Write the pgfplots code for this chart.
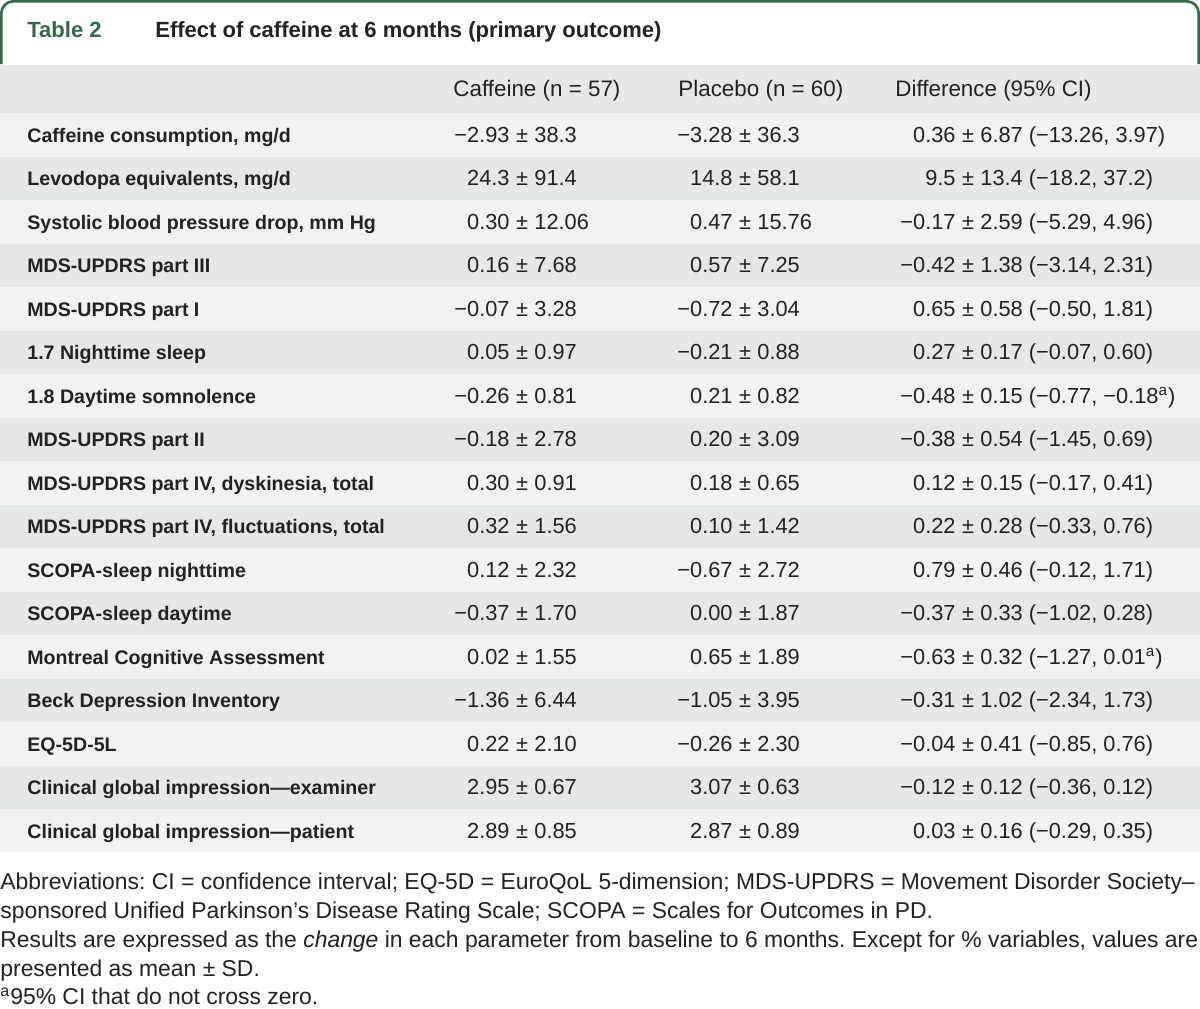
\documentclass[border=0pt]{standalone}
\usepackage{pgfplots}
\pgfplotsset{compat=1.18}
\usepackage{pgfplotstable}
\usepackage{fontspec}
\setmainfont{Liberation Sans}
\frenchspacing
\definecolor{tgreen}{HTML}{2F6B4B}
\definecolor{rowdark}{HTML}{E6E7E7}
\definecolor{rowlight}{HTML}{F2F2F2}
\definecolor{txt}{HTML}{222222}
\DeclareRobustCommand\sa{\textsuperscript{a}}

\pgfplotstableread[col sep=semicolon]{
y;label;cl;cr;pl;pr;dl;dr
134.75;Caffeine consumption, mg/d;−2.93;38.3;−3.28;36.3;0.36;6.87 (−13.26, 3.97)
178.25;Levodopa equivalents, mg/d;24.3;91.4;14.8;58.1;9.5;13.4 (−18.2, 37.2)
221.75;Systolic blood pressure drop, mm Hg;0.30;12.06;0.47;15.76;−0.17;2.59 (−5.29, 4.96)
265.25;MDS-UPDRS part III;0.16;7.68;0.57;7.25;−0.42;1.38 (−3.14, 2.31)
308.75;MDS-UPDRS part I;−0.07;3.28;−0.72;3.04;0.65;0.58 (−0.50, 1.81)
352.25;1.7 Nighttime sleep;0.05;0.97;−0.21;0.88;0.27;0.17 (−0.07, 0.60)
395.75;1.8 Daytime somnolence;−0.26;0.81;0.21;0.82;−0.48;0.15 (−0.77, −0.18\sa)
439.25;MDS-UPDRS part II;−0.18;2.78;0.20;3.09;−0.38;0.54 (−1.45, 0.69)
482.75;MDS-UPDRS part IV, dyskinesia, total;0.30;0.91;0.18;0.65;0.12;0.15 (−0.17, 0.41)
526.25;MDS-UPDRS part IV, fluctuations, total;0.32;1.56;0.10;1.42;0.22;0.28 (−0.33, 0.76)
569.75;SCOPA-sleep nighttime;0.12;2.32;−0.67;2.72;0.79;0.46 (−0.12, 1.71)
613.25;SCOPA-sleep daytime;−0.37;1.70;0.00;1.87;−0.37;0.33 (−1.02, 0.28)
656.75;Montreal Cognitive Assessment;0.02;1.55;0.65;1.89;−0.63;0.32 (−1.27, 0.01\sa)
700.25;Beck Depression Inventory;−1.36;6.44;−1.05;3.95;−0.31;1.02 (−2.34, 1.73)
743.75;EQ-5D-5L;0.22;2.10;−0.26;2.30;−0.04;0.41 (−0.85, 0.76)
787.25;Clinical global impression—examiner;2.95;0.67;3.07;0.63;−0.12;0.12 (−0.36, 0.12)
830.75;Clinical global impression—patient;2.89;0.85;2.87;0.89;0.03;0.16 (−0.29, 0.35)
}\results

\newcommand\valfont{\fontsize{10.9}{12}\selectfont}
\newcommand\hdrfont{\fontsize{11.2}{13}\selectfont}
\newcommand\labfont{\bfseries\fontsize{9.8}{12}\selectfont}

\begin{document}
\begin{tikzpicture}
\begin{axis}[
  width=600pt, height=504pt, scale only axis,
  xmin=0, xmax=1200, ymin=0, ymax=1008, y dir=reverse,
  hide axis, clip=false,
  every node near coord/.append style={inner sep=0pt, text=txt},
]
% backgrounds
\addplot[fill=white, draw=none] coordinates {(0,0) (1200,0) (1200,1008) (0,1008)} -- cycle;
\addplot[fill=rowdark, draw=none] coordinates {(0,65) (1200,65) (1200,113) (0,113)} -- cycle;
\addplot[fill=rowlight, draw=none] coordinates {(0,113) (1200,113) (1200,852) (0,852)} -- cycle;
\addplot[fill=rowdark, draw=none] coordinates {(0,156.5) (1200,156.5) (1200,200) (0,200)} -- cycle;
\addplot[fill=rowdark, draw=none] coordinates {(0,243.5) (1200,243.5) (1200,287) (0,287)} -- cycle;
\addplot[fill=rowdark, draw=none] coordinates {(0,330.5) (1200,330.5) (1200,374) (0,374)} -- cycle;
\addplot[fill=rowdark, draw=none] coordinates {(0,417.5) (1200,417.5) (1200,461) (0,461)} -- cycle;
\addplot[fill=rowdark, draw=none] coordinates {(0,504.5) (1200,504.5) (1200,548) (0,548)} -- cycle;
\addplot[fill=rowdark, draw=none] coordinates {(0,591.5) (1200,591.5) (1200,635) (0,635)} -- cycle;
\addplot[fill=rowdark, draw=none] coordinates {(0,678.5) (1200,678.5) (1200,722) (0,722)} -- cycle;
\addplot[fill=rowdark, draw=none] coordinates {(0,765.5) (1200,765.5) (1200,809) (0,809)} -- cycle;
% title frame
\addplot[draw=tgreen, line width=1.3pt, rounded corners=6pt] coordinates {(1.3,64) (1.3,1.3) (1198.7,1.3) (1198.7,64)};

% titles
\node[anchor=base west, inner sep=0pt, text=tgreen, font=\bfseries\fontsize{11}{13}\selectfont] at (axis cs:27,37.5) {Table 2};
\node[anchor=base west, inner sep=0pt, text=txt, font=\bfseries\fontsize{11}{13}\selectfont] at (axis cs:155,37.5) {Effect of caffeine at 6 months (primary outcome)};
% header
\node[anchor=base west, inner sep=0pt, text=txt, font=\hdrfont] at (axis cs:453,96.5) {Caffeine (n = 57)};
\node[anchor=base west, inner sep=0pt, text=txt, font=\hdrfont] at (axis cs:678,96.5) {Placebo (n = 60)};
\node[anchor=base west, inner sep=0pt, text=txt, font=\hdrfont] at (axis cs:895,96.5) {Difference (95\% CI)};

% labels
\addplot[draw=none, mark=none, nodes near coords, point meta=explicit symbolic,
  every node near coord/.append style={anchor=base west, font=\labfont}]
  table[x expr=27, y expr=\thisrow{y}+7.5, meta=label] {\results};
% caffeine
\addplot[draw=none, mark=none, nodes near coords, point meta=explicit symbolic,
  every node near coord/.append style={anchor=base east, font=\valfont}]
  table[x expr=510, y expr=\thisrow{y}+7.5, meta=cl] {\results};
\addplot[draw=none, mark=none, nodes near coords={±}, point meta=explicit symbolic,
  every node near coord/.append style={anchor=base, font=\valfont}]
  table[x expr=522, y expr=\thisrow{y}+7.5, meta=cl] {\results};
\addplot[draw=none, mark=none, nodes near coords, point meta=explicit symbolic,
  every node near coord/.append style={anchor=base west, font=\valfont}]
  table[x expr=534, y expr=\thisrow{y}+7.5, meta=cr] {\results};
% placebo
\addplot[draw=none, mark=none, nodes near coords, point meta=explicit symbolic,
  every node near coord/.append style={anchor=base east, font=\valfont}]
  table[x expr=733, y expr=\thisrow{y}+7.5, meta=pl] {\results};
\addplot[draw=none, mark=none, nodes near coords={±}, point meta=explicit symbolic,
  every node near coord/.append style={anchor=base, font=\valfont}]
  table[x expr=745, y expr=\thisrow{y}+7.5, meta=pl] {\results};
\addplot[draw=none, mark=none, nodes near coords, point meta=explicit symbolic,
  every node near coord/.append style={anchor=base west, font=\valfont}]
  table[x expr=757, y expr=\thisrow{y}+7.5, meta=pr] {\results};
% difference
\addplot[draw=none, mark=none, nodes near coords, point meta=explicit symbolic,
  every node near coord/.append style={anchor=base east, font=\valfont}]
  table[x expr=956, y expr=\thisrow{y}+7.5, meta=dl] {\results};
\addplot[draw=none, mark=none, nodes near coords={±}, point meta=explicit symbolic,
  every node near coord/.append style={anchor=base, font=\valfont}]
  table[x expr=968, y expr=\thisrow{y}+7.5, meta=dl] {\results};
\addplot[draw=none, mark=none, nodes near coords, point meta=explicit symbolic,
  every node near coord/.append style={anchor=base west, font=\valfont}]
  table[x expr=980, y expr=\thisrow{y}+7.5, meta=dr] {\results};

% footnotes
\begin{scope}[every node/.style={anchor=base west, inner sep=0pt, text=txt, font=\fontsize{11.45}{13}\selectfont}]
\node at (axis cs:0,889) {Abbreviations: CI = confidence interval; EQ-5D = EuroQoL 5-dimension; MDS-UPDRS = Movement Disorder Society–};
\node at (axis cs:0,918) {sponsored Unified Parkinson’s Disease Rating Scale; SCOPA = Scales for Outcomes in PD.};
\node at (axis cs:0,947) {Results are expressed as the \textit{change} in each parameter from baseline to 6 months. Except for \% variables, values are};
\node at (axis cs:0,976) {presented as mean ± SD.};
\node at (axis cs:0,1004) {\textsuperscript{a}95\% CI that do not cross zero.};
\end{scope}
\end{axis}
\end{tikzpicture}
\end{document}
